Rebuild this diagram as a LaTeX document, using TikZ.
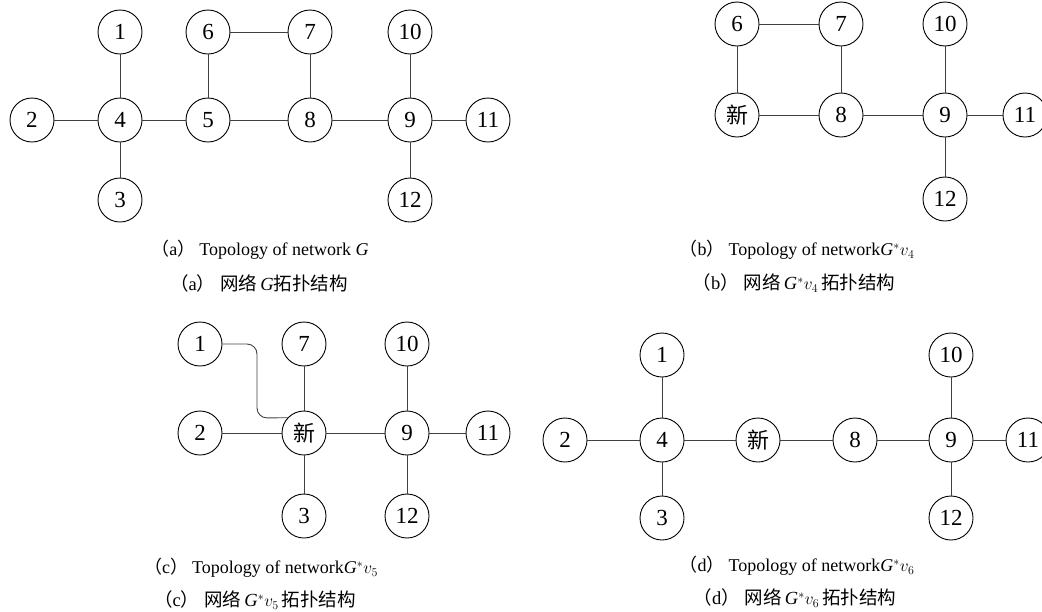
\documentclass[tikz,border=0pt]{standalone}
\usepackage{fontspec}
\setmainfont{Liberation Serif}
\newfontfamily\cjk{Noto Sans CJK SC}
\usetikzlibrary{calc}
\tikzset{
  vtx/.style={circle,draw=black,line width=0.9pt,minimum size=44pt,inner sep=0pt,
    font=\fontsize{23}{23}\selectfont},
  edge/.style={draw=black!75,line width=0.9pt},
  captext/.style={inner sep=0pt,font=\fontsize{18}{18}\selectfont,anchor=center},
  captextz/.style={inner sep=0pt,font=\fontsize{18.5}{18.5}\selectfont,anchor=center}
}
\newcommand{\xin}{{\cjk\fontsize{22}{22}\selectfont 新}}
\newcommand{\lp}{{\cjk （}}
\newcommand{\rp}{{\cjk ）}}
\begin{document}
\begin{tikzpicture}[x=1pt,y=-1pt]
\useasboundingbox (0,0) rectangle (1042,611);
\clip (0,0) rectangle (1042,611);
% (a)
\node[vtx] (a1) at (120,32) {1};
\node[vtx] (a2) at (32,120) {2};
\node[vtx] (a4) at (120,120) {4};
\node[vtx] (a3) at (120,200) {3};
\node[vtx] (a5) at (208,120) {5};
\node[vtx] (a6) at (208,32) {6};
\node[vtx] (a7) at (310,32) {7};
\node[vtx] (a8) at (310,120) {8};
\node[vtx] (a9) at (410,120) {9};
\node[vtx] (a10) at (410,32) {10};
\node[vtx] (a11) at (488,120) {11};
\node[vtx] (a12) at (410,200) {12};
\draw[edge] (a1)--(a4) (a2)--(a4) (a3)--(a4) (a4)--(a5) (a5)--(a6) (a6)--(a7)
  (a7)--(a8) (a5)--(a8) (a8)--(a9) (a9)--(a10) (a9)--(a11) (a9)--(a12);
\node[captext] (capa1) at (260,250) {\lp a\rp\hspace{4pt}Topology of network \textit{G}};
\node[captextz] (capa2) at (259,283) {\lp a\rp\hspace{5pt}{\cjk 网络}\,\textit{G}{\cjk 拓扑结构}};
% (b)
\node[vtx] (b6) at (737,24) {6};
\node[vtx] (b7) at (841,24) {7};
\node[vtx] (bn) at (737,115) {\xin};
\node[vtx] (b8) at (841,115) {8};
\node[vtx] (b9) at (945,115) {9};
\node[vtx] (b10) at (945,24) {10};
\node[vtx] (b11) at (1025,115) {11};
\node[vtx] (b12) at (945,199) {12};
\draw[edge] (b6)--(b7) (b6)--(bn) (b7)--(b8) (bn)--(b8) (b8)--(b9)
  (b9)--(b10) (b9)--(b11) (b9)--(b12);
\node[captext] (capb1) at (797,250) {\lp b\rp\hspace{4pt}Topology of network\textit{G}$^{*}v_{4}$};
\node[captextz] (capb2) at (794,283) {\lp b\rp\hspace{5pt}{\cjk 网络}\,\textit{G}$^{*}v_{4}$\,{\cjk 拓扑结构}};
% (c)
\node[vtx] (c1) at (200,344) {1};
\node[vtx] (c7) at (304,344) {7};
\node[vtx] (c10) at (407,344) {10};
\node[vtx] (c2) at (200,433) {2};
\node[vtx] (cn) at (304,433) {\xin};
\node[vtx] (c9) at (407,433) {9};
\node[vtx] (c11) at (488,433) {11};
\node[vtx] (c3) at (304,516) {3};
\node[vtx] (c12) at (407,516) {12};
\coordinate (cbend) at (257,418);
\draw[edge,rounded corners=10pt] (c1.east) -| (cbend) -- (cn.137);
\draw[edge] (c7)--(cn) (c2)--(cn) (c3)--(cn) (cn)--(c9) (c9)--(c10)
  (c9)--(c11) (c9)--(c12);
\node[captext] (capc1) at (261,568) {\lp c\rp\hspace{4pt}Topology of network\textit{G}$^{*}v_{5}$};
\node[captextz] (capc2) at (255,600) {\lp c\rp\hspace{5pt}{\cjk 网络}\,\textit{G}$^{*}v_{5}$\,{\cjk 拓扑结构}};
% (d)
\node[vtx] (d1) at (662,355) {1};
\node[vtx] (d2) at (565,440) {2};
\node[vtx] (d4) at (662,440) {4};
\node[vtx] (d3) at (662,518) {3};
\node[vtx] (dn) at (758,440) {\xin};
\node[vtx] (d8) at (855,440) {8};
\node[vtx] (d9) at (951,440) {9};
\node[vtx] (d10) at (951,355) {10};
\node[vtx] (d11) at (1028,440) {11};
\node[vtx] (d12) at (951,518) {12};
\draw[edge] (d1)--(d4) (d2)--(d4) (d3)--(d4) (d4)--(dn) (dn)--(d8) (d8)--(d9)
  (d9)--(d10) (d9)--(d11) (d9)--(d12);
\node[captext] (capd1) at (797,566) {\lp d\rp\hspace{4pt}Topology of network\textit{G}$^{*}v_{6}$};
\node[captextz] (capd2) at (795,598) {\lp d\rp\hspace{5pt}{\cjk 网络}\,\textit{G}$^{*}v_{6}$\,{\cjk 拓扑结构}};
\end{tikzpicture}
\end{document}
